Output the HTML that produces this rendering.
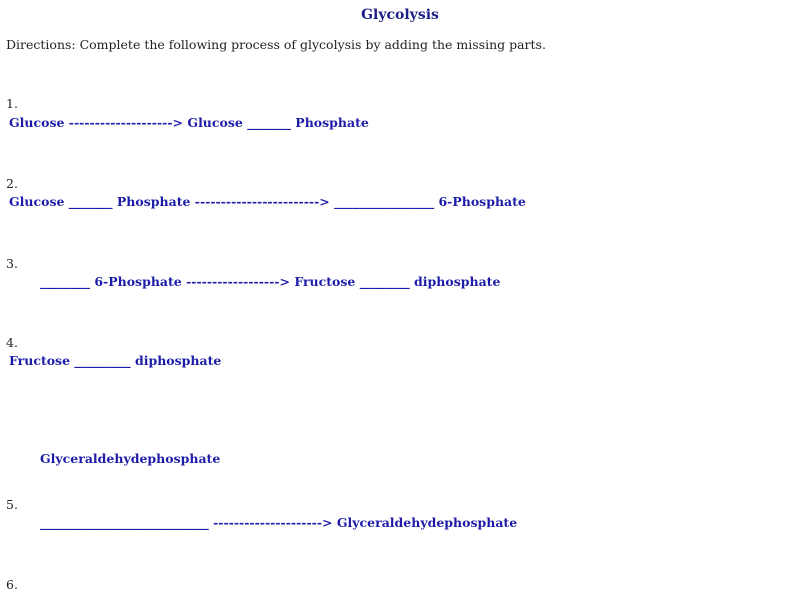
<!DOCTYPE html>
<html><head><meta charset="utf-8"><style>
body{margin:0;width:800px;height:600px;background:#fff;position:relative;overflow:hidden;font-family:"DejaVu Serif","Liberation Serif",serif;}
.a{position:absolute;white-space:pre;font-size:12.5px;line-height:16px;}
.b{font-weight:bold;color:#1c1ca8;}
.n{color:#222;}
</style></head><body>
<div class="a b" style="left:0;width:800px;text-align:center;top:7px;font-size:14px;color:#1e1e88">Glycolysis</div>
<div class="a n" style="left:6px;top:37px">Directions: Complete the following process of glycolysis by adding the missing parts.</div>
<div class="a n" style="left:6px;top:96px">1.</div>
<div class="a b" style="left:9px;top:115px">Glucose --------------------&gt; Glucose _______ Phosphate</div>
<div class="a n" style="left:6px;top:176px">2.</div>
<div class="a b" style="left:9px;top:194px">Glucose _______ Phosphate ------------------------&gt; ________________ 6-Phosphate</div>
<div class="a n" style="left:6px;top:256px">3.</div>
<div class="a b" style="left:40px;top:274px">________ 6-Phosphate ------------------&gt; Fructose ________ diphosphate</div>
<div class="a n" style="left:6px;top:335px">4.</div>
<div class="a b" style="left:9px;top:353px">Fructose _________ diphosphate</div>
<div class="a b" style="left:40px;top:451px">Glyceraldehydephosphate</div>
<div class="a n" style="left:6px;top:497px">5.</div>
<div class="a b" style="left:40px;top:515px">___________________________ ---------------------&gt; Glyceraldehydephosphate</div>
<div class="a n" style="left:6px;top:577px">6.</div>
</body></html>
